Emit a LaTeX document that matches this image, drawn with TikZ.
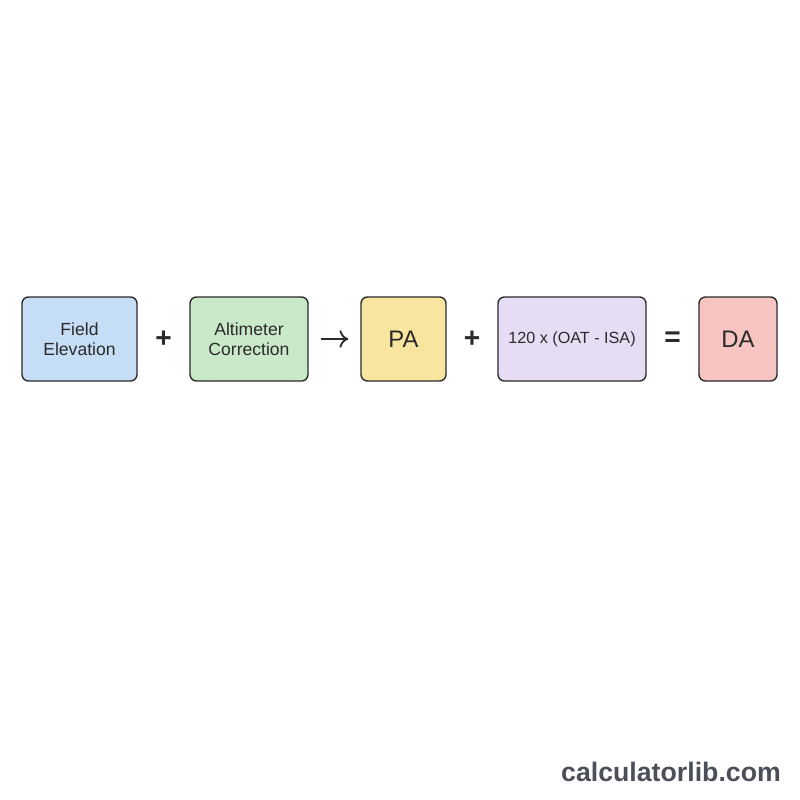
\documentclass[tikz,border=0pt]{standalone}
\usepackage{fontspec}
\setmainfont{Liberation Sans}
\usepackage{tikz}
\usetikzlibrary{arrows.meta}

\definecolor{bleu}{HTML}{C6DDF6}
\definecolor{vert}{HTML}{C9E9C9}
\definecolor{jaune}{HTML}{F8E6A0}
\definecolor{mauve}{HTML}{E6DCF3}
\definecolor{rose}{HTML}{F7C5C1}
\definecolor{trait}{HTML}{2A2A2A}
\definecolor{gris}{HTML}{4A4F5A}

\tikzset{
  boite/.style={draw=trait, line width=1pt, rounded corners=1.6mm, align=center,
    minimum height=21mm, inner sep=0pt, text=trait, font=\fontsize{12.5}{14.5}\selectfont},
  op/.style={font=\fontsize{20}{20}\selectfont\bfseries, text=trait},
}

\begin{document}
\begin{tikzpicture}[x=0.25mm, y=-0.25mm]
    % Cadre
    \useasboundingbox (0,0) rectangle (800,800);
    % Boites
    \node[boite, fill=bleu,  minimum width=28.75mm] (field) at (79.5,339) {Field\\Elevation};
    \node[boite, fill=vert,  minimum width=29.5mm]  (alti)  at (249,339)  {Altimeter\\Correction};
    \node[boite, fill=jaune, minimum width=21.25mm, font=\fontsize{17}{20}\selectfont] (pa) at (403.5,339) {PA};
    \node[boite, fill=mauve, minimum width=37mm, font=\fontsize{11.5}{14}\selectfont] (temp) at (572,339) {120 x (OAT - ISA)};
    \node[boite, fill=rose,  minimum width=19.5mm, font=\fontsize{17}{20}\selectfont] (da) at (738,339) {DA};
    % Operateurs
    \node[op] (plusa) at (163.5,339) {+};
    \node[op] (plusb) at (472,339) {+};
    \node[op] (egal)  at (672.5,339) {=};
    % Fleche
    \draw[-{To[length=2.2mm, width=4.4mm]}, line width=1.3pt, trait, shorten <=3mm, shorten >=3mm] (alti.east) -- (pa.west);
    % Texte
    \node[font=\fontsize{19}{22}\selectfont\bfseries, text=gris] (site) at (671,772) {calculatorlib.com};
\end{tikzpicture}
\end{document}
